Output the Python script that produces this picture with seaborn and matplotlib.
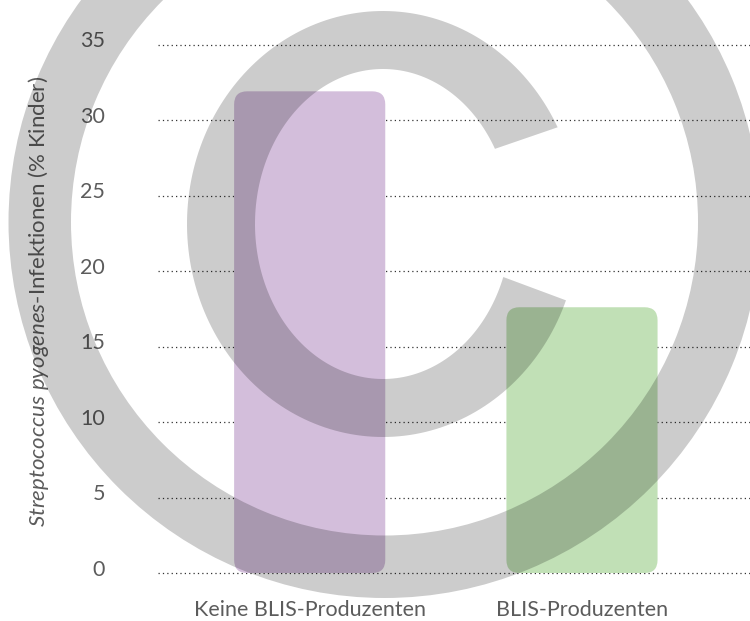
import numpy as np
import pandas as pd
import matplotlib
matplotlib.use('Agg')
import matplotlib.pyplot as plt
import matplotlib.transforms as mtransforms
from matplotlib.patches import FancyBboxPatch, Annulus, Polygon
import seaborn as sns

# data
groups = ['Keine BLIS-Produzenten', 'BLIS-Produzenten']
infections = [31.9, 17.6]
bar_colors = ['#d3bedb', '#c1e0b6']
y_ticks = [0, 5, 10, 15, 20, 25, 30, 35]

sns.set_theme(style='white')
plt.rcParams['font.family'] = ['Lato', 'DejaVu Sans']
plt.rcParams['font.weight'] = 'normal'
plt.rcParams['mathtext.fontset'] = 'custom'
plt.rcParams['mathtext.it'] = 'Lato:italic'
plt.rcParams['mathtext.rm'] = 'Lato'
text_color = '#5c5c5c'

df = pd.DataFrame({'group': groups, 'value': infections})

fig = plt.figure(figsize=(7.5, 6.21), dpi=100)
ax = fig.add_axes([0.2107, 0.070, 0.7893, 0.8656])

sns.barplot(data=df, x='group', y='value', hue='group', palette=bar_colors,
            width=0.555, legend=False, ax=ax, saturation=1)

# swap the plain bars for rounded ones
xlim = (-0.557, 1.617)
ylim = (-0.3, 35.3)
ax.set_xlim(*xlim)
ax.set_ylim(*ylim)
px_x = 0.7893 * 750 / (xlim[1] - xlim[0])
px_y = 0.8656 * 621 / (ylim[1] - ylim[0])
radius = 13 / px_x
for p in list(ax.patches):
    x0, y0 = p.get_x(), p.get_y()
    w, h = p.get_width(), p.get_height()
    fc = p.get_facecolor()
    p.remove()
    ax.add_patch(FancyBboxPatch((x0, y0), w, h,
                                boxstyle=f'round,pad=0,rounding_size={radius}',
                                mutation_aspect=px_x / px_y,
                                facecolor=fc, edgecolor='none', zorder=2))

ax.set_axisbelow(True)
ax.yaxis.grid(True, linestyle=(0, (1, 2.5)), linewidth=0.9, color='#333333')
ax.xaxis.grid(False)
for s in ax.spines.values():
    s.set_visible(False)

ax.set_yticks(y_ticks)
ax.set_yticklabels([str(t) for t in y_ticks])
ax.tick_params(axis='y', length=0, pad=38, labelsize=15.5, labelcolor=text_color)
ax.tick_params(axis='x', length=0, pad=16, labelsize=15.5, labelcolor=text_color)
ax.set_xlabel('')
ax.set_ylabel('')

offset = mtransforms.ScaledTranslation(0, 0.055, fig.dpi_scale_trans)
for lab in ax.get_yticklabels():
    lab.set_transform(lab.get_transform() + offset)

fig.text(0.051, 0.5145,
         r'$\mathit{Streptococcus\ pyogenes}$-Infektionen (% Kinder)',
         rotation=90, ha='center', va='center', fontsize=16, color=text_color)

# copyright watermark overlay
wm = fig.add_axes([0, 0, 1, 1], zorder=10)
wm.set_xlim(0, 750)
wm.set_ylim(621, 0)
wm.axis('off')
wm.patch.set_alpha(0)
wm.add_patch(Annulus((384.5, 222), 376, 62.5, facecolor='black', alpha=0.2,
                     edgecolor='none'))
cx, cy = 383, 224
t_out = np.radians(np.linspace(27, 339, 200))
t_in = np.radians(np.linspace(340, 29, 200))
outer = np.column_stack([cx + 196 * np.cos(t_out), cy - 213 * np.sin(t_out)])
inner = np.column_stack([cx + 128 * np.cos(t_in), cy - 155 * np.sin(t_in)])
wm.add_patch(Polygon(np.vstack([outer, inner]), closed=True, facecolor='black',
                     alpha=0.2, edgecolor='none'))

fig.savefig('out.png', dpi=100)
